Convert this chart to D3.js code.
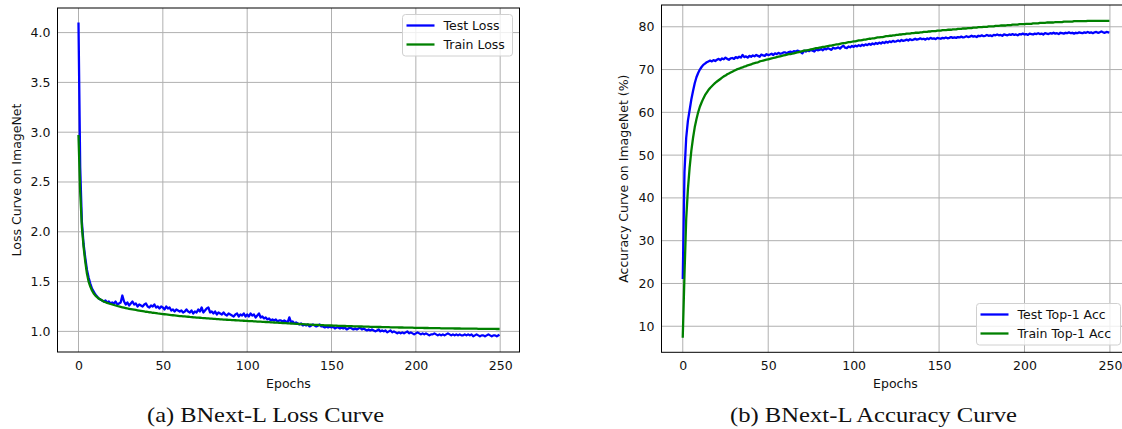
<!DOCTYPE html>
<html><head><meta charset="utf-8">
<script src="https://cdn.jsdelivr.net/npm/d3@7"></script>
<style>body{margin:0;background:#fff}svg{display:block}</style>
</head><body>
<svg id="c" width="1122" height="429"></svg>
<script>
// ---------- data ----------
const testLoss = [
4.09,2.65,2.10,1.88,1.74,1.62,1.54,1.48,1.43,1.40,
1.37,1.35,1.33,1.32,1.31,1.30,1.31,1.29,1.30,1.28,
1.29,1.28,1.30,1.27,1.28,1.29,1.36,1.30,1.27,1.29,
1.26,1.28,1.30,1.27,1.28,1.25,1.27,1.26,1.25,1.27,
1.28,1.25,1.24,1.26,1.25,1.27,1.24,1.25,1.23,1.25,
1.24,1.22,1.25,1.23,1.24,1.21,1.22,1.20,1.22,1.21,
1.20,1.21,1.19,1.20,1.22,1.20,1.19,1.21,1.18,1.20,
1.19,1.22,1.20,1.24,1.19,1.21,1.23,1.24,1.19,1.20,
1.18,1.20,1.17,1.19,1.18,1.17,1.19,1.17,1.16,1.18,
1.17,1.16,1.15,1.17,1.18,1.15,1.17,1.16,1.18,1.15,
1.17,1.15,1.18,1.16,1.17,1.14,1.16,1.18,1.14,1.15,
1.13,1.14,1.12,1.13,1.11,1.12,1.11,1.12,1.10,1.11,
1.11,1.10,1.11,1.10,1.09,1.14,1.09,1.10,1.08,1.09,
1.08,1.07,1.08,1.06,1.07,1.06,1.07,1.05,1.06,1.07,
1.06,1.05,1.06,1.07,1.05,1.05,1.04,1.05,1.04,1.05,
1.04,1.05,1.03,1.04,1.04,1.03,1.04,1.03,1.04,1.02,
1.03,1.04,1.03,1.02,1.03,1.02,1.03,1.04,1.02,1.03,
1.02,1.01,1.02,1.01,1.02,1.01,1.00,1.01,1.02,1.00,
1.01,1.00,1.01,0.99,1.00,1.01,0.99,1.00,0.99,0.98,
0.99,0.98,0.99,0.98,0.99,1.00,0.98,0.99,0.98,0.97,
0.98,0.99,0.98,0.97,0.98,0.97,0.98,0.97,0.96,0.97,
0.97,0.98,0.97,0.96,0.97,0.96,0.97,0.96,0.97,0.98,
0.97,0.96,0.97,0.96,0.97,0.96,0.97,0.96,0.96,0.97,
0.96,0.97,0.96,0.97,0.95,0.96,0.97,0.96,0.95,0.96,
0.96,0.95,0.96,0.97,0.96,0.95,0.96,0.96,0.95,0.96];
const trainLoss = [
2.96,2.40,2.05,1.85,1.70,1.58,1.50,1.45,1.41,1.38,
1.36,1.345,1.33,1.32,1.31,1.30,1.293,1.286,1.280,1.275,
1.270,1.265,1.260,1.255,1.250,1.246,1.242,1.238,1.234,1.230,
1.227,1.224,1.221,1.218,1.215,1.212,1.209,1.206,1.203,1.200,
1.197,1.195,1.192,1.190,1.187,1.185,1.183,1.180,1.178,1.176,
1.174,1.172,1.170,1.168,1.166,1.164,1.162,1.160,1.158,1.156,
1.154,1.153,1.151,1.150,1.148,1.147,1.145,1.144,1.142,1.141,
1.139,1.138,1.137,1.135,1.134,1.133,1.131,1.130,1.129,1.128,
1.126,1.125,1.124,1.123,1.121,1.120,1.119,1.118,1.117,1.116,
1.115,1.114,1.113,1.112,1.111,1.110,1.109,1.108,1.107,1.106,
1.105,1.104,1.103,1.102,1.101,1.100,1.099,1.098,1.097,1.096,
1.095,1.094,1.093,1.092,1.091,1.090,1.089,1.088,1.087,1.086,
1.085,1.084,1.083,1.082,1.081,1.080,1.079,1.078,1.077,1.076,
1.075,1.074,1.073,1.072,1.071,1.070,1.069,1.068,1.067,1.066,
1.066,1.065,1.064,1.063,1.063,1.062,1.061,1.061,1.060,1.059,
1.059,1.058,1.057,1.057,1.056,1.056,1.055,1.054,1.054,1.053,
1.053,1.052,1.052,1.051,1.051,1.050,1.050,1.049,1.049,1.048,
1.048,1.047,1.047,1.046,1.046,1.045,1.045,1.044,1.044,1.044,
1.043,1.043,1.042,1.042,1.042,1.041,1.041,1.040,1.040,1.040,
1.039,1.039,1.039,1.038,1.038,1.038,1.037,1.037,1.037,1.036,
1.036,1.036,1.035,1.035,1.035,1.034,1.034,1.034,1.033,1.033,
1.033,1.033,1.032,1.032,1.032,1.031,1.031,1.031,1.031,1.030,
1.030,1.030,1.030,1.029,1.029,1.029,1.029,1.028,1.028,1.028,
1.028,1.028,1.027,1.027,1.027,1.027,1.027,1.026,1.026,1.026,
1.026,1.026,1.025,1.025,1.025,1.025,1.025,1.025,1.024,1.024];
const testAcc = [
21.3,46.0,54.0,58.0,60.5,63.0,65.0,66.8,68.2,69.2,
70.0,70.6,71.1,71.4,71.7,71.9,72.1,71.9,72.2,72.0,
72.3,72.5,72.2,72.6,72.4,72.8,72.5,72.3,72.6,72.7,
72.5,72.9,72.7,73.0,72.8,73.4,72.9,73.1,72.8,73.2,
73.0,73.3,73.1,73.4,73.2,73.0,73.5,73.3,73.2,73.6,
73.4,73.5,73.7,73.4,73.8,73.6,73.9,73.7,73.8,74.0,
74.0,73.8,74.1,74.2,74.0,74.3,74.2,74.4,74.3,74.1,
73.8,74.4,74.2,74.5,74.3,74.6,74.4,74.2,74.7,74.5,
74.6,74.8,74.5,74.9,74.7,75.0,74.8,74.6,75.1,74.9,
75.0,75.2,74.9,75.3,75.6,75.1,75.0,75.4,75.2,75.5,
75.3,75.6,75.4,75.7,75.5,75.8,75.6,75.9,75.7,76.0,
75.8,76.1,75.9,76.2,76.0,76.3,76.1,76.4,76.2,76.5,
76.3,76.6,76.4,76.7,76.5,76.6,76.8,76.6,76.9,76.7,
76.8,77.0,76.8,77.1,76.9,77.0,77.2,77.0,77.1,77.3,
77.1,77.2,77.0,77.3,77.1,77.4,77.2,77.3,77.1,77.4,
77.3,77.2,77.4,77.3,77.5,77.3,77.4,77.6,77.4,77.5,
77.4,77.6,77.5,77.7,77.5,77.6,77.8,77.6,77.7,77.9,
77.7,77.8,77.6,77.9,77.8,78.0,77.8,77.9,78.1,77.9,
78.0,77.8,78.1,78.0,78.2,78.0,78.1,77.9,78.2,78.1,
78.0,78.2,78.1,78.3,78.1,78.2,78.0,78.3,78.2,78.4,
78.2,78.3,78.1,78.4,78.3,78.2,78.4,78.3,78.5,78.3,
78.4,78.2,78.5,78.4,78.3,78.5,78.4,78.6,78.4,78.5,
78.3,78.6,78.5,78.4,78.6,78.5,78.7,78.5,78.6,78.4,
78.6,78.5,78.7,78.6,78.5,78.7,78.6,78.8,78.6,78.7,
78.5,78.7,78.8,78.6,78.7,78.9,78.7,78.6,78.8,78.7];
const trainAcc = [
7.6,22.0,35.0,42.0,47.0,51.0,54.0,56.5,58.4,60.0,
61.3,62.3,63.2,64.0,64.6,65.2,65.7,66.1,66.5,66.9,
67.2,67.5,67.8,68.1,68.4,68.6,68.9,69.1,69.3,69.5,
69.7,69.9,70.1,70.2,70.4,70.5,70.7,70.8,71.0,71.1,
71.2,71.4,71.5,71.6,71.7,71.9,72.0,72.1,72.2,72.3,
72.4,72.5,72.6,72.7,72.8,72.9,73.0,73.1,73.2,73.3,
73.4,73.5,73.6,73.6,73.7,73.8,73.9,74.0,74.1,74.2,
74.3,74.4,74.5,74.5,74.6,74.7,74.8,74.9,75.0,75.0,
75.1,75.2,75.3,75.3,75.4,75.5,75.6,75.6,75.7,75.8,
75.9,75.9,76.0,76.1,76.2,76.2,76.3,76.4,76.4,76.5,
76.6,76.6,76.7,76.8,76.8,76.9,77.0,77.0,77.1,77.2,
77.2,77.3,77.3,77.4,77.5,77.5,77.6,77.6,77.7,77.8,
77.8,77.9,77.9,78.0,78.0,78.1,78.1,78.2,78.2,78.3,
78.3,78.4,78.4,78.4,78.5,78.5,78.6,78.6,78.6,78.7,
78.7,78.8,78.8,78.8,78.9,78.9,79.0,79.0,79.0,79.1,
79.1,79.1,79.2,79.2,79.2,79.3,79.3,79.3,79.4,79.4,
79.4,79.5,79.5,79.5,79.6,79.6,79.6,79.7,79.7,79.7,
79.8,79.8,79.8,79.9,79.9,79.9,80.0,80.0,80.0,80.1,
80.1,80.1,80.1,80.2,80.2,80.2,80.3,80.3,80.3,80.3,
80.4,80.4,80.4,80.5,80.5,80.5,80.5,80.6,80.6,80.6,
80.6,80.7,80.7,80.7,80.7,80.8,80.8,80.8,80.8,80.9,
80.9,80.9,80.9,81.0,81.0,81.0,81.0,81.0,81.1,81.1,
81.1,81.1,81.1,81.2,81.2,81.2,81.2,81.2,81.2,81.3,
81.3,81.3,81.3,81.3,81.3,81.3,81.3,81.4,81.4,81.4,
81.4,81.4,81.4,81.4,81.4,81.4,81.4,81.4,81.4,81.4];
const epochTicks = [0, 50, 100, 150, 200, 250];
const lossTicks = [1.0, 1.5, 2.0, 2.5, 3.0, 3.5, 4.0];
const accTicks = [10, 20, 30, 40, 50, 60, 70, 80];
const lossLabels = ["Test Loss", "Train Loss"];
const accLabels = ["Test Top-1 Acc", "Train Top-1 Acc"];
const captions = ["(a) BNext-L Loss Curve", "(b) BNext-L Accuracy Curve"];
const colors = ["#0000ff", "#008000"];

// ---------- drawing ----------
const svg = d3.select("#c");
const FONT = "DejaVu Sans, sans-serif";
const FS = 12.5;

function panel(cfg) {
  const g = svg.append("g");
  const n = cfg.series[0].length - 1;
  const x = d3.scaleLinear().domain([-0.05 * n, 1.05 * n]).range([cfg.left, cfg.right]);
  const all = cfg.series.flat();
  const [lo, hi] = d3.extent(all);
  const pad = (hi - lo) * 0.05;
  const y = d3.scaleLinear().domain([lo - pad, hi + pad]).range([cfg.bottom, cfg.top]);

  const clipId = "clip" + cfg.id;
  svg.append("clipPath").attr("id", clipId).append("rect")
    .attr("x", cfg.left).attr("y", cfg.top)
    .attr("width", cfg.right - cfg.left).attr("height", cfg.bottom - cfg.top);

  // grid
  g.append("g").selectAll("line").data(cfg.xTicks).join("line")
    .attr("x1", d => x(d)).attr("x2", d => x(d))
    .attr("y1", cfg.top).attr("y2", cfg.bottom)
    .attr("stroke", "#b0b0b0").attr("stroke-width", 1);
  g.append("g").selectAll("line").data(cfg.yTicks).join("line")
    .attr("y1", d => y(d)).attr("y2", d => y(d))
    .attr("x1", cfg.left).attr("x2", cfg.right)
    .attr("stroke", "#b0b0b0").attr("stroke-width", 1);

  // series
  const line = d3.line().x((d, i) => x(i)).y(d => y(d));
  const sg = g.append("g").attr("clip-path", `url(#${clipId})`);
  cfg.series.forEach((s, k) => {
    sg.append("path").datum(s).attr("d", line)
      .attr("fill", "none").attr("stroke", colors[k]).attr("stroke-width", 2.3)
      .attr("stroke-linejoin", "round").attr("stroke-linecap", "square");
  });

  // axes
  const xAxis = d3.axisBottom(x).tickValues(cfg.xTicks).tickSize(0).tickPadding(9).tickFormat(d3.format("d"));
  const yAxis = d3.axisLeft(y).tickValues(cfg.yTicks).tickSize(0).tickPadding(7).tickFormat(d3.format(cfg.yFmt));
  const gx = g.append("g").attr("transform", `translate(0,${cfg.bottom})`).call(xAxis);
  const gy = g.append("g").attr("transform", `translate(${cfg.left},0)`).call(yAxis);
  [gx, gy].forEach(a => {
    a.select(".domain").remove();
    a.selectAll("text").attr("font-family", FONT).attr("font-size", FS).attr("fill", "#111");
  });

  // spines
  g.append("rect").attr("x", cfg.left).attr("y", cfg.top)
    .attr("width", cfg.right - cfg.left).attr("height", cfg.bottom - cfg.top)
    .attr("fill", "none").attr("stroke", "#000").attr("stroke-width", 1);

  // axis labels
  g.append("text").attr("x", (cfg.left + cfg.xLabelCx)).attr("y", cfg.bottom + 36)
    .attr("text-anchor", "middle").attr("font-family", FONT).attr("font-size", FS)
    .attr("fill", "#111").text("Epochs");
  g.append("text")
    .attr("transform", `translate(${cfg.yLabelX},${(cfg.top + cfg.bottom) / 2}) rotate(-90)`)
    .attr("text-anchor", "middle").attr("font-family", FONT).attr("font-size", FS)
    .attr("fill", "#111").text(cfg.yLabel);

  // legend
  const L = cfg.legend;
  const lg = g.append("g");
  lg.append("rect").attr("x", L.x).attr("y", L.y).attr("width", L.w).attr("height", L.h)
    .attr("rx", 3).attr("fill", "#fff").attr("fill-opacity", 0.8)
    .attr("stroke", "#d0d0d0").attr("stroke-width", 1);
  cfg.labels.forEach((lab, k) => {
    const yy = L.y + 11 + k * 19;
    lg.append("line").attr("x1", L.x + 4).attr("x2", L.x + 32)
      .attr("y1", yy).attr("y2", yy).attr("stroke", colors[k]).attr("stroke-width", 2.3);
    lg.append("text").attr("x", L.x + 41).attr("y", yy).attr("dy", "0.36em")
      .attr("font-family", FONT).attr("font-size", FS).attr("fill", "#111").text(lab);
  });

  // caption
  svg.append("text").attr("x", cfg.capX).attr("y", 422)
    .attr("text-anchor", "middle").attr("font-family", "Liberation Serif, serif")
    .attr("font-size", 21).attr("fill", "#111")
    .attr("textLength", cfg.capW).attr("lengthAdjust", "spacingAndGlyphs")
    .text(cfg.caption);
}

panel({
  id: "a", left: 57.5, right: 519.5, top: 8, bottom: 352,
  series: [testLoss, trainLoss], labels: lossLabels,
  xTicks: epochTicks, yTicks: lossTicks, yFmt: ".1f",
  yLabel: "Loss Curve on ImageNet", yLabelX: 20.5, xLabelCx: 231,
  legend: { x: 402.5, y: 14.5, w: 110, h: 41.5 },
  caption: captions[0], capX: 265.5, capW: 237
});
panel({
  id: "b", left: 661.5, right: 1129.5, top: 5, bottom: 352.3,
  series: [testAcc, trainAcc], labels: accLabels,
  xTicks: epochTicks, yTicks: accTicks, yFmt: "d",
  yLabel: "Accuracy Curve on ImageNet (%)", yLabelX: 628, xLabelCx: 234,
  legend: { x: 976.5, y: 303.5, w: 144, h: 41.5 },
  caption: captions[1], capX: 873.5, capW: 287
});
</script>
</body></html>
